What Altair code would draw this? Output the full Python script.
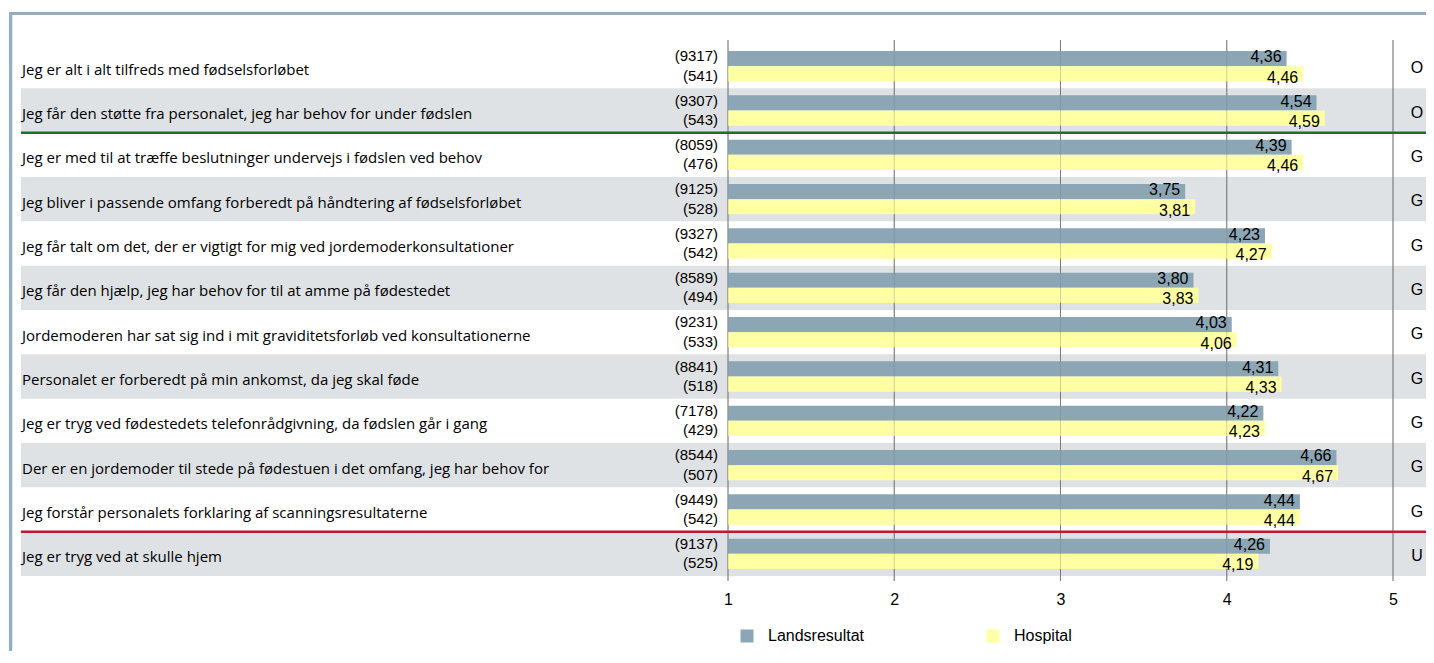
import altair as alt
import pandas as pd

questions = [
    "Jeg er alt i alt tilfreds med fødselsforløbet",
    "Jeg får den støtte fra personalet, jeg har behov for under fødslen",
    "Jeg er med til at træffe beslutninger undervejs i fødslen ved behov",
    "Jeg bliver i passende omfang forberedt på håndtering af fødselsforløbet",
    "Jeg får talt om det, der er vigtigt for mig ved jordemoderkonsultationer",
    "Jeg får den hjælp, jeg har behov for til at amme på fødestedet",
    "Jordemoderen har sat sig ind i mit graviditetsforløb ved konsultationerne",
    "Personalet er forberedt på min ankomst, da jeg skal føde",
    "Jeg er tryg ved fødestedets telefonrådgivning, da fødslen går i gang",
    "Der er en jordemoder til stede på fødestuen i det omfang, jeg har behov for",
    "Jeg forstår personalets forklaring af scanningsresultaterne",
    "Jeg er tryg ved at skulle hjem",
]
n_lands = [9317, 9307, 8059, 9125, 9327, 8589, 9231, 8841, 7178, 8544, 9449, 9137]
n_hosp = [541, 543, 476, 528, 542, 494, 533, 518, 429, 507, 542, 525]
v_lands = [4.36, 4.54, 4.39, 3.75, 4.23, 3.80, 4.03, 4.31, 4.22, 4.66, 4.44, 4.26]
v_hosp = [4.46, 4.59, 4.46, 3.81, 4.27, 3.83, 4.06, 4.33, 4.23, 4.67, 4.44, 4.19]
groups = ["O", "O", "G", "G", "G", "G", "G", "G", "G", "G", "G", "U"]
series = ["Landsresultat", "Hospital"]
ticks = [1, 2, 3, 4, 5]
green_after = [2]   # first row of group G
red_after = [11]    # first row of group U

GREY = "#8CA6B5"
YELLOW = "#FFFFA3"
BAND = "#DFE2E5"
FONT_Q = "Open Sans"
FONT_N = "Liberation Sans, Arial, sans-serif"

rows = []
for i, q in enumerate(questions):
    rows.append(dict(idx=i, series="Landsresultat", value=v_lands[i], n=n_lands[i]))
    rows.append(dict(idx=i, series="Hospital", value=v_hosp[i], n=n_hosp[i]))
df = pd.DataFrame(rows)
df["vlabel"] = df["value"].map(lambda v: f"{v:.2f}".replace(".", ","))
df["nlabel"] = df["n"].map(lambda n: f"({n})")

qdf = pd.DataFrame({"idx": list(range(len(questions))), "q": questions, "grp": groups})
tdf = pd.DataFrame({"t": ticks})

W = 1406
H = 532

xscale = alt.Scale(domain=[1, 5], range=[708, 1373], nice=False, zero=False)
yscale = alt.Scale(domain=list(range(len(questions))), paddingInner=0, paddingOuter=0)
xaxis = alt.Axis(values=ticks, grid=False, domain=False, ticks=False, labelFontSize=16,
                 labelFont=FONT_N, labelColor="#000", labelPadding=15, title=None, format="d",
                 labelFlush=False, labelOverlap=False)
X = lambda f: alt.X(f, scale=xscale, axis=xaxis)
Y = alt.Y("idx:O", scale=yscale, axis=None)

bands = alt.Chart(qdf).transform_filter("datum.idx % 2 == 1").mark_rect(color=BAND).encode(
    y=Y, x=alt.value(1), x2=alt.value(W))

grid_under = alt.Chart(tdf).mark_rule(color="#7a7a7a", strokeWidth=1).encode(
    x=X("t:Q"), y=alt.value(-4), y2=alt.value(H + 5))

bars = alt.Chart(df).mark_bar().encode(
    x=X("value:Q"),
    x2=alt.datum(1),
    y=Y,
    yOffset=alt.YOffset("series:N", scale=alt.Scale(domain=series, paddingOuter=0.46, paddingInner=0)),
    color=alt.Color("series:N", scale=alt.Scale(domain=series, range=[GREY, YELLOW]),
                    legend=alt.Legend(orient="none", legendX=719, legendY=584, direction="horizontal",
                                      title=None, symbolType="square", symbolSize=169,
                                      symbolStrokeWidth=0, symbolOpacity=1, labelFontSize=16,
                                      labelFont=FONT_N, labelColor="#000", labelOffset=13,
                                      columnPadding=120)),
)

grid_over = alt.Chart(tdf).mark_rule(color="#7a7a7a", strokeWidth=1, opacity=0.35).encode(
    x=X("t:Q"), y=alt.value(-4), y2=alt.value(H + 5))

def val_text(s, dy):
    return alt.Chart(df).transform_filter(alt.datum.series == s).mark_text(
        align="right", baseline="alphabetic", dx=-5, dy=dy, fontSize=16, font=FONT_N, color="#000"
    ).encode(x=X("value:Q"), y=Y, text="vlabel:N")

def n_text(s, dy):
    return alt.Chart(df).transform_filter(alt.datum.series == s).mark_text(
        align="right", baseline="alphabetic", dx=-10, dy=dy, fontSize=15, font=FONT_N, color="#000"
    ).encode(x=alt.X(datum=1, scale=xscale, axis=xaxis), y=Y, text="nlabel:N")

qtext = alt.Chart(qdf).mark_text(align="left", baseline="alphabetic", dy=8.5, fontSize=15,
                                 font=FONT_Q, color="#000").encode(
    x=alt.value(2), y=Y, text="q:N")

gtext = alt.Chart(qdf).mark_text(align="center", baseline="alphabetic", dy=7, fontSize=16,
                                 font=FONT_N, color="#000").encode(
    x=alt.value(1397), y=Y, text="grp:N")

green = alt.Chart(pd.DataFrame({"idx": green_after})).mark_rule(color="#1E6E2E", strokeWidth=2.5).encode(
    y=alt.Y("idx:O", scale=yscale, axis=None, bandPosition=0), x=alt.value(1), x2=alt.value(W))
red = alt.Chart(pd.DataFrame({"idx": red_after})).mark_rule(color="#C0182D", strokeWidth=2.5).encode(
    y=alt.Y("idx:O", scale=yscale, axis=None, bandPosition=0), x=alt.value(1), x2=alt.value(W))

frame_top = alt.Chart(tdf).mark_rule(color="#94ADBF", strokeWidth=2.7).encode(
    x=alt.value(-10.5), x2=alt.value(W + 20), y=alt.value(-30.3))
frame_left = alt.Chart(tdf).mark_rule(color="#94ADBF", strokeWidth=2.7).encode(
    x=alt.value(-9.3), y=alt.value(-32), y2=alt.value(H + 90))

chart = alt.layer(
    bands, grid_under, bars, grid_over,
    val_text("Landsresultat", -4), val_text("Hospital", 16.5),
    n_text("Landsresultat", -5), n_text("Hospital", 14.5),
    qtext, gtext, green, red, frame_top, frame_left,
).properties(
    width=W, height=H,
    padding={"left": 12, "top": 36, "right": 0, "bottom": 75},
    autosize=alt.AutoSizeParams(type="none"),
).configure_view(stroke=None)

chart.save("out.html", embed_options={"renderer": "svg", "actions": False})
